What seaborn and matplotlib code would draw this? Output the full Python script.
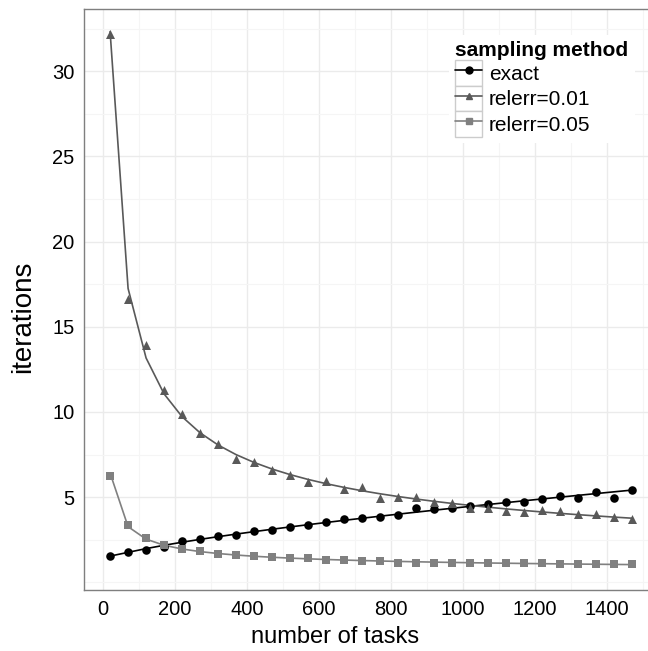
import numpy as np
import pandas as pd
import seaborn as sns

import matplotlib.pyplot as plt
from matplotlib.lines import Line2D
from matplotlib.patches import Rectangle
from matplotlib.legend_handler import HandlerLine2D
from matplotlib.ticker import MultipleLocator

tasks = list(range(20, 1471, 50))

exact = [1.55, 1.79, 1.91, 2.08, 2.42, 2.52, 2.73, 2.79, 3.03, 3.05,
         3.26, 3.38, 3.52, 3.70, 3.76, 3.82, 3.93, 4.38, 4.32, 4.38,
         4.50, 4.60, 4.70, 4.74, 4.88, 5.09, 4.94, 5.33, 4.97, 5.41]
relerr_001 = [32.2, 16.65, 13.94, 11.28, 9.86, 8.74, 8.09, 7.26, 7.04, 6.57,
              6.31, 5.88, 5.92, 5.47, 5.57, 4.97, 5.03, 5.00, 4.74, 4.64,
              4.38, 4.35, 4.21, 4.15, 4.25, 4.21, 4.01, 4.01, 3.82, 3.73]
relerr_005 = [6.24, 3.36, 2.63, 2.18, 1.96, 1.82, 1.69, 1.61, 1.57, 1.47,
              1.41, 1.41, 1.33, 1.29, 1.23, 1.23, 1.16, 1.14, 1.14, 1.14,
              1.14, 1.14, 1.14, 1.14, 1.14, 1.08, 1.08, 1.08, 1.08, 1.08]

methods = ['exact', 'relerr=0.01', 'relerr=0.05']
colors = ['#000000', '#595959', '#808080']
markers = ['o', '^', 's']
msizes = [38, 42, 38]


def fitted(x, y):
    # quadratic fit in log-log space, evaluated at the data points
    x = np.log(np.asarray(x, float))
    y = np.log(np.asarray(y, float))
    p = np.polyfit(x, y, 2)
    return np.exp(np.polyval(p, x))


class KeyHandler(HandlerLine2D):
    # legend key with a light grey box around it, like ggplot
    def create_artists(self, legend, orig_handle, xdescent, ydescent,
                       width, height, fontsize, trans):
        arts = super().create_artists(legend, orig_handle, xdescent,
                                      ydescent, width, height, fontsize,
                                      trans)
        box = Rectangle((-xdescent, -ydescent), width, height,
                        facecolor='white', edgecolor='#CCCCCC', lw=1.0,
                        transform=trans)
        return [box] + list(arts)


def main():
    frames = []
    for m, vals in zip(methods, [exact, relerr_001, relerr_005]):
        frames.append(pd.DataFrame({'tasks': tasks, 'iterations': vals,
                                    'fit': fitted(tasks, vals),
                                    'method': m}))
    df = pd.concat(frames, ignore_index=True)

    sns.set_style('white')
    plt.rcParams['font.family'] = ['Liberation Sans', 'DejaVu Sans']
    plt.rcParams['text.color'] = 'black'
    plt.rcParams['axes.labelcolor'] = 'black'

    fig = plt.figure(figsize=(6.48, 6.51), dpi=100)
    ax = fig.add_axes([84 / 648, 61 / 651, 574 / 648, 581 / 651])

    for m, c, mk, s in zip(methods, colors, markers, msizes):
        sub = df[df['method'] == m]
        sns.lineplot(data=sub, x='tasks', y='fit', color=c, lw=1.2,
                     ax=ax, legend=False, zorder=3)
        sns.scatterplot(data=sub, x='tasks', y='iterations', color=c,
                        marker=mk, s=s, linewidth=0, ax=ax, legend=False,
                        zorder=4)

    ax.set_xlim(-52.5, 1542.5)
    ax.set_ylim(-0.45, 33.65)
    ax.xaxis.set_major_locator(MultipleLocator(200))
    ax.xaxis.set_minor_locator(MultipleLocator(100))
    ax.yaxis.set_major_locator(MultipleLocator(5))
    ax.yaxis.set_minor_locator(MultipleLocator(2.5))
    ax.set_yticks([5, 10, 15, 20, 25, 30])
    ax.grid(which='major', color='#EBEBEB', lw=1.0, zorder=0)
    ax.grid(which='minor', color='#F5F5F5', lw=0.8, zorder=0)
    ax.set_axisbelow(True)
    for sp in ax.spines.values():
        sp.set_color('#7F7F7F')
        sp.set_linewidth(1.0)
    ax.tick_params(which='major', direction='out', length=4, width=0.9,
                   color='#333333', labelsize=14.5, labelcolor='black',
                   pad=3)
    ax.tick_params(which='minor', length=0)

    ax.set_xlabel('number of tasks', fontsize=17)
    ax.set_ylabel('iterations', fontsize=20)
    ax.xaxis.set_label_coords(0.437, -0.062)
    ax.yaxis.set_label_coords(-0.084, 0.47)

    handles = [Line2D([], [], color=c, marker=mk, lw=1.2, markersize=5)
               for c, mk in zip(colors, markers)]
    ax.legend(handles, methods, title='sampling method',
              loc='upper left', bbox_to_anchor=(0.677, 0.962),
              bbox_transform=fig.transFigure, fontsize=15,
              title_fontproperties={'weight': 'bold', 'size': 15},
              frameon=True, facecolor='white', edgecolor='none',
              framealpha=1, fancybox=False, handlelength=1.3,
              handleheight=1.5, handletextpad=0.3, labelspacing=0.0,
              borderpad=0.3, numpoints=1, alignment='left',
              handler_map={Line2D: KeyHandler()})

    fig.savefig('out.png', dpi=100)


if __name__ == '__main__':
    main()
